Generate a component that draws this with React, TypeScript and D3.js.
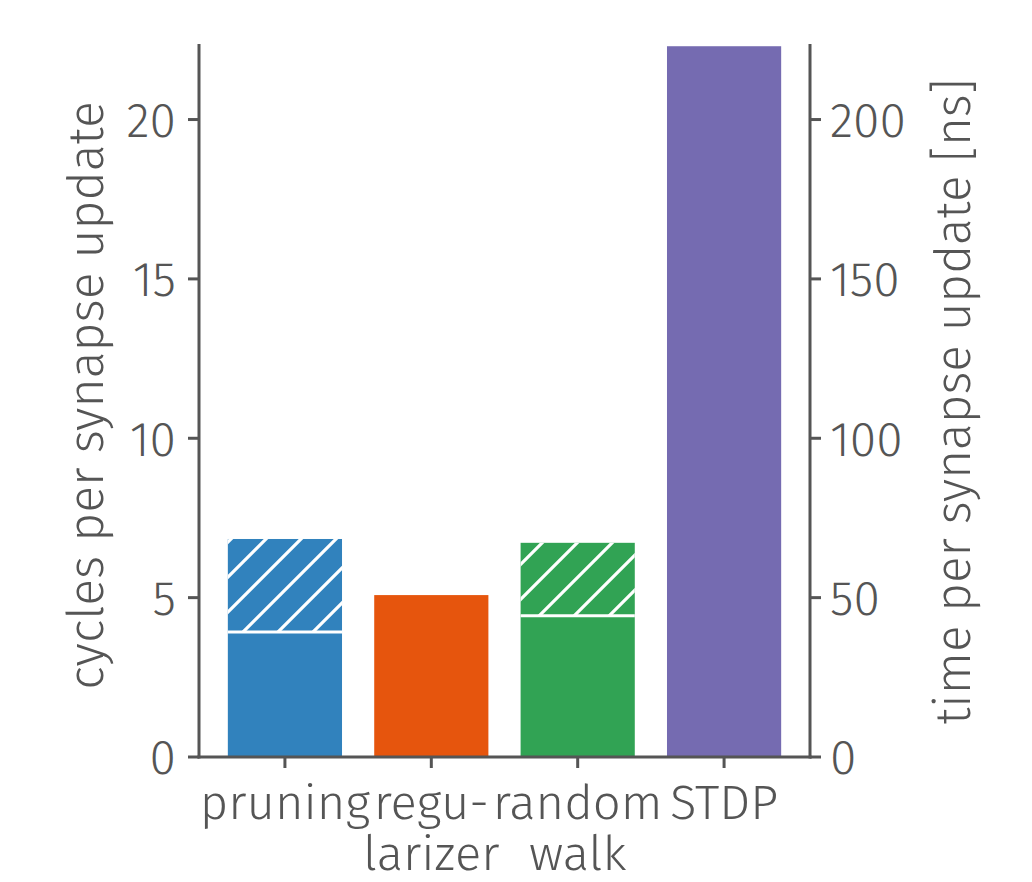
import React from 'react';
import * as d3 from 'd3';

// data
const categories = ['pruning', 'regularizer', 'random walk', 'STDP'];
const categoryLines = [['pruning'], ['regu-', 'larizer'], ['random', 'walk'], ['STDP']];
const baseCycles = [3.92, 5.08, 4.43, 22.3];
const extraCycles = [2.92, 0, 2.29, 0];
const colors = ['#3182bd', '#e6550d', '#31a354', '#756bb1'];
const leftTicks = [0, 5, 10, 15, 20];
const rightTicks = [0, 50, 100, 150, 200];

const W = 1032;
const H = 882;
const axisColor = '#555555';
const font = "'Fira Sans', 'Open Sans', Lato, sans-serif";

export default function App() {
  const left = 199;
  const right = 810;
  const top = 44;
  const bottom = 757;

  const x = d3.scaleBand<string>()
    .domain(categories)
    .range([left, right])
    .paddingInner(0.22)
    .paddingOuter(0.197);
  const y = d3.scaleLinear().domain([0, 22.37]).range([bottom, top]);
  const y2 = d3.scaleLinear().domain([0, 223.7]).range([bottom, top]);

  return (
    <svg width={W} height={H} style={{ display: 'block', position: 'absolute', left: 0, top: 0 }}>
      <defs>
        <pattern id="hatch" patternUnits="userSpaceOnUse" width={35} height={35}>
          <path d="M-5,5 L5,-5 M0,35 L35,0 M30,40 L40,30" stroke="#fff" strokeWidth={3.2} />
        </pattern>
      </defs>

      {categories.map((c, i) => {
        const x0 = x(c)!;
        const bw = x.bandwidth();
        const base = baseCycles[i];
        const extra = extraCycles[i];
        return (
          <g key={c}>
            <rect x={x0} y={y(base)} width={bw} height={y(0) - y(base)} fill={colors[i]} />
            {extra > 0 && (
              <g>
                <rect x={x0} y={y(base + extra)} width={bw} height={y(base) - y(base + extra)} fill={colors[i]} />
                <rect x={x0} y={y(base + extra)} width={bw} height={y(base) - y(base + extra)} fill="url(#hatch)" />
                <line x1={x0} x2={x0 + bw} y1={y(base)} y2={y(base)} stroke="#fff" strokeWidth={3} />
              </g>
            )}
          </g>
        );
      })}

      {/* axes */}
      <line x1={left} x2={left} y1={top} y2={bottom + 1.5} stroke={axisColor} strokeWidth={3} />
      <line x1={right} x2={right} y1={top} y2={bottom + 1.5} stroke={axisColor} strokeWidth={3} />
      <line x1={left - 1.5} x2={right + 1.5} y1={bottom} y2={bottom} stroke={axisColor} strokeWidth={3} />

      {leftTicks.map(t => (
        <g key={'l' + t}>
          <line x1={left - 11} x2={left} y1={y(t)} y2={y(t)} stroke={axisColor} strokeWidth={3} />
          <text x={left - 23} y={y(t)} dy="0.36em" textAnchor="end" fontSize={48} fontWeight={300}
            fontFamily={font} fill={axisColor}>{t}</text>
        </g>
      ))}
      {rightTicks.map(t => (
        <g key={'r' + t}>
          <line x1={right} x2={right + 11} y1={y2(t)} y2={y2(t)} stroke={axisColor} strokeWidth={3} />
          <text x={right + 20} y={y2(t)} dy="0.36em" textAnchor="start" fontSize={48} fontWeight={300}
            fontFamily={font} fill={axisColor}>{t}</text>
        </g>
      ))}
      {categories.map((c, i) => {
        const cx = x(c)! + x.bandwidth() / 2;
        return (
          <g key={'x' + c}>
            <line x1={cx} x2={cx} y1={bottom} y2={bottom + 11} stroke={axisColor} strokeWidth={3} />
            {categoryLines[i].map((ln, j) => (
              <text key={ln} x={cx} y={819 + j * 51} textAnchor="middle" fontSize={49} fontWeight={300}
                fontFamily={font} fill={axisColor}>{ln}</text>
            ))}
          </g>
        );
      })}

      <text transform={`translate(103,${(top + bottom) / 2 - 5}) rotate(-90)`} textAnchor="middle"
        fontSize={50} fontWeight={300} fontFamily={font} fill={axisColor}>cycles per synapse update</text>
      <text transform={`translate(970,${(top + bottom) / 2 + 1}) rotate(-90)`} textAnchor="middle"
        fontSize={49.5} fontWeight={300} fontFamily={font} fill={axisColor}>time per synapse update [ns]</text>
    </svg>
  );
}
